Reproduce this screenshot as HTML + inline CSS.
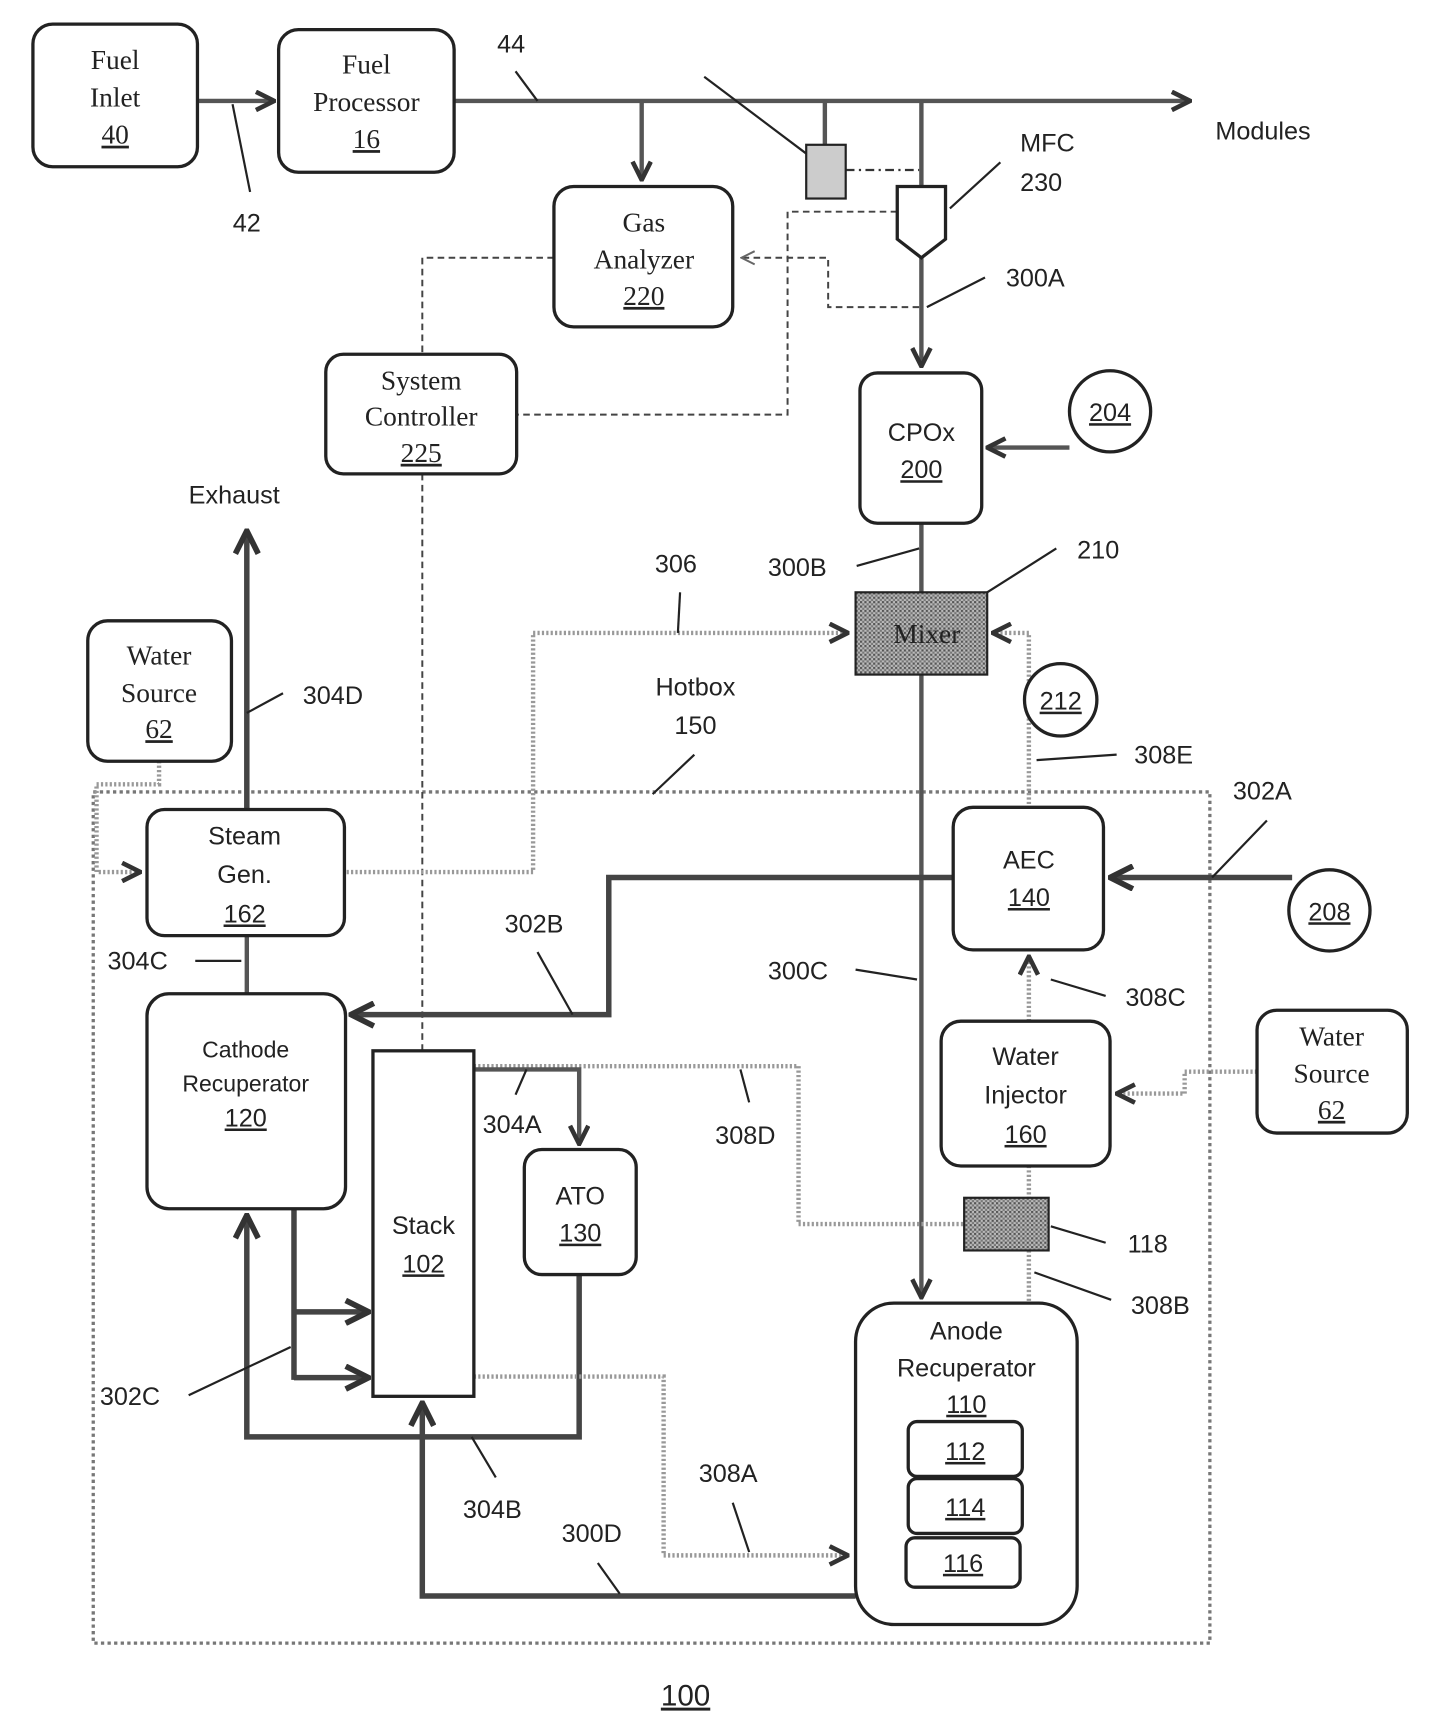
<!DOCTYPE html>
<html><head><meta charset="utf-8"><style>html,body{margin:0;padding:0;background:#fff}svg{display:block}</style></head>
<body>
<svg width="1449" height="1721" viewBox="0 0 1321 1569" xmlns="http://www.w3.org/2000/svg">
<defs>
<marker id="a" viewBox="0 0 12 12" refX="11" refY="6" markerWidth="5" markerHeight="5" orient="auto" markerUnits="strokeWidth"><path d="M1,1 L11,6 L1,11" fill="none" stroke="#333" stroke-width="2.5"/></marker>
<marker id="b" viewBox="0 0 12 12" refX="11" refY="6" markerWidth="8" markerHeight="8" orient="auto" markerUnits="strokeWidth"><path d="M1,1 L11,6 L1,11" fill="none" stroke="#666" stroke-width="1.5"/></marker>
<pattern id="tex" width="4" height="4" patternUnits="userSpaceOnUse"><rect width="4" height="4" fill="#bbb"/><rect width="2" height="2" fill="#555"/><rect x="2" y="2" width="2" height="2" fill="#777"/></pattern>
</defs>
<style>
.bx{fill:#fff;stroke:#222;stroke-width:3}
.s{font-family:"Liberation Serif",serif;font-size:25px;fill:#222;text-anchor:middle}
.n{font-family:"Liberation Sans",sans-serif;font-size:23px;fill:#222;text-anchor:middle}
.l{font-family:"Liberation Sans",sans-serif;font-size:23px;fill:#222}
.ld{stroke:#222;stroke-width:2;fill:none}
.th{stroke:#444;stroke-width:5;fill:none}
.md{stroke:#555;stroke-width:4;fill:none}
.dt{stroke:#999;stroke-width:4;stroke-dasharray:2 2;fill:none}
.ds{stroke:#444;stroke-width:1.8;stroke-dasharray:6 4;fill:none}
</style>

<rect x="85" y="722" width="1018" height="776" fill="none" stroke="#777" stroke-width="3" stroke-dasharray="3 3"/>

<line x1="180" y1="92" x2="250" y2="92" class="md" marker-end="url(#a)"/>
<line x1="414" y1="92" x2="1085" y2="92" class="md" marker-end="url(#a)"/>
<line x1="585" y1="92" x2="585" y2="164" class="md" marker-end="url(#a)"/>
<line x1="752" y1="92" x2="752" y2="132" class="md"/>
<line x1="771" y1="155" x2="838" y2="155" stroke="#333" stroke-width="2" stroke-dasharray="8 4 2 4"/>
<line x1="840" y1="92" x2="840" y2="172" class="md"/>
<line x1="840" y1="235" x2="840" y2="334" class="md" marker-end="url(#a)"/>
<path d="M838,280 L755,280 L755,235 L676,235" class="ds" marker-end="url(#b)"/>
<path d="M818,193 L718,193 L718,378 L472,378" class="ds"/>
<path d="M505,235 L385,235 L385,323" class="ds"/>
<line x1="385" y1="432" x2="385" y2="958" class="ds"/>
<line x1="975" y1="408" x2="900" y2="408" class="md" marker-end="url(#a)"/>
<line x1="840" y1="477" x2="840" y2="540" class="md"/>
<path d="M316,795 L486,795 L486,577 L773,577" class="dt" marker-end="url(#a)"/>
<path d="M938,733 L938,577 L905,577" class="dt" marker-end="url(#a)"/>
<line x1="840" y1="615" x2="840" y2="1183" class="md" marker-end="url(#a)"/>
<line x1="1178" y1="800" x2="1012" y2="800" class="th" marker-end="url(#a)"/>
<path d="M869,800 L555,800 L555,925 L320,925" class="th" marker-end="url(#a)"/>
<line x1="938" y1="931" x2="938" y2="872" class="dt" marker-end="url(#a)"/>
<path d="M1146,977 L1080,977 L1080,997 L1018,997" class="dt" marker-end="url(#a)"/>
<line x1="938" y1="1063" x2="938" y2="1092" class="dt"/>
<path d="M432,972 L728,972 L728,1116 L879,1116" class="dt"/>
<line x1="938" y1="1140" x2="938" y2="1188" class="dt"/>
<path d="M432,975 L528,975 L528,1043" class="md" marker-end="url(#a)"/>
<path d="M528,1162 L528,1310 L225,1310 L225,1108" class="th" marker-end="url(#a)"/>
<path d="M780,1455 L385,1455 L385,1279" class="th" marker-end="url(#a)"/>
<path d="M432,1255 L605,1255 L605,1418 L773,1418" class="dt" marker-end="url(#a)"/>
<path d="M268,1102 L268,1258" class="th"/>
<line x1="268" y1="1196" x2="336" y2="1196" class="th" marker-end="url(#a)"/>
<line x1="268" y1="1256" x2="336" y2="1256" class="th" marker-end="url(#a)"/>
<line x1="225" y1="853" x2="225" y2="906" class="md"/>
<line x1="225" y1="738" x2="225" y2="484" class="th" marker-end="url(#a)"/>
<path d="M145,694 L145,715 L88,715 L88,795 L128,795" class="dt" marker-end="url(#a)"/>

<line x1="212" y1="95" x2="228" y2="175" class="ld"/>
<line x1="470" y1="65" x2="490" y2="92" class="ld"/>
<line x1="642" y1="70" x2="735" y2="140" class="ld"/>
<line x1="912" y1="148" x2="866" y2="190" class="ld"/>
<line x1="898" y1="253" x2="845" y2="280" class="ld"/>
<line x1="781" y1="516" x2="838" y2="500" class="ld"/>
<line x1="963" y1="500" x2="900" y2="540" class="ld"/>
<line x1="620" y1="540" x2="618" y2="577" class="ld"/>
<line x1="1018" y1="688" x2="945" y2="693" class="ld"/>
<line x1="633" y1="688" x2="595" y2="724" class="ld"/>
<line x1="780" y1="884" x2="836" y2="893" class="ld"/>
<line x1="1155" y1="748" x2="1105" y2="800" class="ld"/>
<line x1="490" y1="868" x2="522" y2="925" class="ld"/>
<line x1="1008" y1="908" x2="958" y2="893" class="ld"/>
<line x1="1008" y1="1133" x2="958" y2="1118" class="ld"/>
<line x1="683" y1="1005" x2="675" y2="975" class="ld"/>
<line x1="1013" y1="1185" x2="943" y2="1160" class="ld"/>
<line x1="470" y1="998" x2="480" y2="975" class="ld"/>
<line x1="452" y1="1347" x2="430" y2="1310" class="ld"/>
<line x1="545" y1="1425" x2="565" y2="1453" class="ld"/>
<line x1="668" y1="1370" x2="683" y2="1415" class="ld"/>
<line x1="172" y1="1272" x2="265" y2="1228" class="ld"/>
<line x1="178" y1="876" x2="220" y2="876" class="ld"/>
<line x1="258" y1="632" x2="225" y2="650" class="ld"/>

<rect x="30" y="22" width="150" height="130" rx="18" class="bx"/>
<text class="s" x="105" y="63">Fuel</text><text class="s" x="105" y="97">Inlet</text><text class="s" x="105" y="131" text-decoration="underline">40</text>
<rect x="254" y="27" width="160" height="130" rx="18" class="bx"/>
<text class="s" x="334" y="67">Fuel</text><text class="s" x="334" y="101">Processor</text><text class="s" x="334" y="135" text-decoration="underline">16</text>
<rect x="505" y="170" width="163" height="128" rx="18" class="bx"/>
<text class="s" x="587" y="211">Gas</text><text class="s" x="587" y="245">Analyzer</text><text class="s" x="587" y="278" text-decoration="underline">220</text>
<rect x="735" y="132" width="36" height="49" fill="#ccc" stroke="#222" stroke-width="2"/>
<path d="M818,170 L862,170 L862,218 L840,235 L818,218 Z" class="bx"/>
<rect x="297" y="323" width="174" height="109" rx="16" class="bx"/>
<text class="s" x="384" y="355">System</text><text class="s" x="384" y="388">Controller</text><text class="s" x="384" y="421" text-decoration="underline">225</text>
<rect x="784" y="340" width="111" height="137" rx="16" class="bx"/>
<text class="n" x="840" y="402">CPOx</text><text class="n" x="840" y="436" text-decoration="underline">200</text>
<circle cx="1012" cy="375" r="37" class="bx"/><text class="n" x="1012" y="384" text-decoration="underline">204</text>
<rect x="780" y="540" width="120" height="75" fill="url(#tex)" stroke="#222" stroke-width="2"/>
<text class="s" x="845" y="586">Mixer</text>
<circle cx="967" cy="638" r="33" class="bx"/><text class="n" x="967" y="647" text-decoration="underline">212</text>
<rect x="869" y="736" width="137" height="130" rx="18" class="bx"/>
<text class="n" x="938" y="792">AEC</text><text class="n" x="938" y="826" text-decoration="underline">140</text>
<circle cx="1212" cy="830" r="37" class="bx"/><text class="n" x="1212" y="839" text-decoration="underline">208</text>
<rect x="858" y="931" width="154" height="132" rx="18" class="bx"/>
<text class="n" x="935" y="971">Water</text><text class="n" x="935" y="1006">Injector</text><text class="n" x="935" y="1042" text-decoration="underline">160</text>
<rect x="1146" y="921" width="137" height="112" rx="18" class="bx"/>
<text class="s" x="1214" y="953">Water</text><text class="s" x="1214" y="987">Source</text><text class="s" x="1214" y="1020" text-decoration="underline">62</text>
<rect x="879" y="1092" width="77" height="48" fill="url(#tex)" stroke="#222" stroke-width="2"/>
<rect x="780" y="1188" width="202" height="293" rx="35" class="bx"/>
<text class="n" x="881" y="1221">Anode</text><text class="n" x="881" y="1255">Recuperator</text><text class="n" x="881" y="1288" text-decoration="underline">110</text>
<rect x="828" y="1296" width="104" height="50" rx="8" class="bx"/><text class="n" x="880" y="1331" text-decoration="underline">112</text>
<rect x="828" y="1348" width="104" height="50" rx="8" class="bx"/><text class="n" x="880" y="1382" text-decoration="underline">114</text>
<rect x="826" y="1402" width="104" height="45" rx="8" class="bx"/><text class="n" x="878" y="1433" text-decoration="underline">116</text>
<rect x="340" y="958" width="92" height="315" class="bx"/>
<text class="n" x="386" y="1125">Stack</text><text class="n" x="386" y="1160" text-decoration="underline">102</text>
<rect x="478" y="1048" width="102" height="114" rx="16" class="bx"/>
<text class="n" x="529" y="1098">ATO</text><text class="n" x="529" y="1132" text-decoration="underline">130</text>
<rect x="134" y="906" width="181" height="196" rx="20" class="bx"/>
<text class="n" x="224" y="964" style="font-size:21px">Cathode</text><text class="n" x="224" y="995" style="font-size:21px">Recuperator</text><text class="n" x="224" y="1027" text-decoration="underline">120</text>
<rect x="134" y="738" width="180" height="115" rx="16" class="bx"/>
<text class="n" x="223" y="770">Steam</text><text class="n" x="223" y="805">Gen.</text><text class="n" x="223" y="841" text-decoration="underline">162</text>
<rect x="80" y="566" width="131" height="128" rx="18" class="bx"/>
<text class="s" x="145" y="606">Water</text><text class="s" x="145" y="640">Source</text><text class="s" x="145" y="673" text-decoration="underline">62</text>

<text class="n" x="225" y="211">42</text>
<text class="n" x="466" y="48">44</text>
<text class="l" x="1108" y="127">Modules</text>
<text class="l" x="930" y="138">MFC</text>
<text class="l" x="930" y="174">230</text>
<text class="l" x="917" y="261">300A</text>
<text class="l" x="700" y="525">300B</text>
<text class="l" x="982" y="509">210</text>
<text class="l" x="597" y="522">306</text>
<text class="n" x="634" y="634">Hotbox</text>
<text class="n" x="634" y="669">150</text>
<text class="l" x="1034" y="696">308E</text>
<text class="l" x="1124" y="729">302A</text>
<text class="l" x="460" y="850">302B</text>
<text class="l" x="700" y="893">300C</text>
<text class="l" x="1026" y="917">308C</text>
<text class="l" x="1028" y="1142">118</text>
<text class="l" x="652" y="1043">308D</text>
<text class="l" x="1031" y="1198">308B</text>
<text class="l" x="440" y="1033">304A</text>
<text class="l" x="422" y="1384">304B</text>
<text class="l" x="512" y="1406">300D</text>
<text class="l" x="637" y="1351">308A</text>
<text class="l" x="91" y="1281">302C</text>
<text class="l" x="98" y="884">304C</text>
<text class="l" x="276" y="642">304D</text>
<text class="l" x="172" y="459">Exhaust</text>
<text class="n" x="625" y="1555" style="font-size:27px" text-decoration="underline">100</text>
</svg>
</body></html>
